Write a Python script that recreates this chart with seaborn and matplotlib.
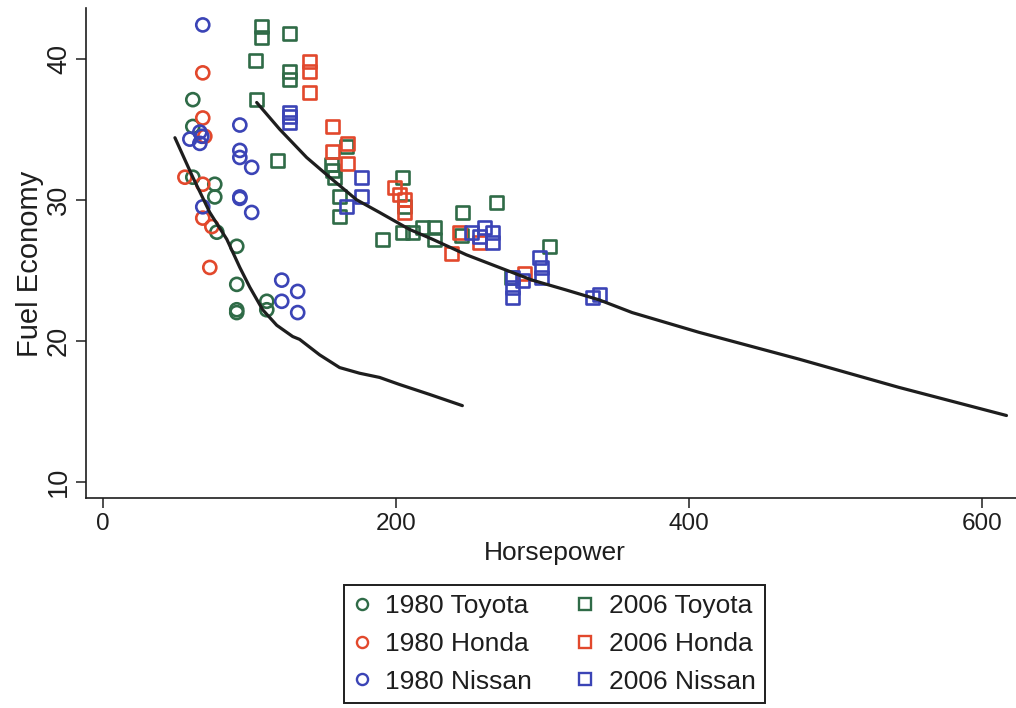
import numpy as np
import pandas as pd
import matplotlib
matplotlib.use("Agg")
import matplotlib.pyplot as plt
from matplotlib.lines import Line2D
import seaborn as sns

# ---- data: horsepower vs fuel economy (mpg) by model year and maker ----
toyota80_hp = [61.3, 61.3, 61.3, 76.3, 76.3, 77.7, 91.3, 91.3, 91.3, 91.3, 111.8, 111.8]
toyota80_mpg = [37.1, 35.2, 31.6, 31.1, 30.2, 27.7, 26.7, 24.0, 22.2, 22.0, 22.8, 22.2]

honda80_hp = [68.1, 68.1, 69.5, 55.9, 68.1, 68.1, 74.3, 72.9]
honda80_mpg = [39.0, 35.8, 34.5, 31.6, 31.1, 28.7, 28.1, 25.2]

nissan80_hp = [68.1, 59.3, 66.1, 67.5, 66.1, 93.4, 93.4, 93.4, 101.5, 93.4, 93.4,
               101.5, 68.1, 122.0, 122.0, 132.9, 132.9]
nissan80_mpg = [42.4, 34.3, 34.8, 34.5, 34.0, 35.3, 33.5, 33.0, 32.3, 30.2, 30.1,
                29.1, 29.5, 24.3, 22.8, 23.5, 22.0]

toyota06_hp = [108.3, 108.3, 104.3, 127.4, 127.4, 127.4, 104.9, 119.3, 166.3, 156.0,
               156.7, 158.1, 161.5, 161.5, 190.8, 204.4, 205.8, 204.4, 211.2, 218.1,
               226.2, 226.2, 245.3, 244.6, 268.5, 304.6, 278.7]
toyota06_mpg = [42.3, 41.5, 39.9, 41.8, 39.1, 38.5, 37.1, 32.8, 33.8, 32.5,
                32.1, 31.6, 30.2, 28.8, 27.2, 31.6, 29.5, 27.7, 27.7, 28.0,
                28.0, 27.2, 29.1, 27.5, 29.8, 26.7, 24.5]

honda06_hp = [141.1, 141.1, 141.1, 156.7, 156.7, 167.0, 167.0, 199.0, 202.4, 205.8,
              205.8, 237.8, 243.3, 256.9, 287.6]
honda06_mpg = [39.8, 39.1, 37.6, 35.2, 33.4, 34.0, 32.6, 30.9, 30.4, 30.0,
               29.1, 26.2, 27.7, 27.0, 24.8]

nissan06_hp = [127.4, 127.4, 127.4, 176.5, 176.5, 166.3, 251.4, 260.3, 256.9, 265.8,
               265.8, 297.8, 299.2, 299.2, 279.4, 286.2, 279.4, 279.4, 333.9, 338.7]
nissan06_mpg = [36.2, 35.9, 35.5, 31.6, 30.2, 29.5, 27.7, 28.0, 27.4, 27.7,
                27.0, 25.9, 25.2, 24.5, 24.5, 24.3, 23.8, 23.1, 23.1, 23.3]

# smoothed (lowess) trends for each model year
fit80_hp = [49.1, 61.3, 72.9, 84.5, 93.4, 100.2, 109.0, 118.6, 129.5, 134.2,
            147.9, 161.5, 175.1, 188.8, 202.4, 222.8, 245.3]
fit80_mpg = [34.4, 31.6, 29.1, 27.2, 25.2, 23.8, 22.2, 21.1, 20.3, 20.1,
             19.0, 18.1, 17.7, 17.4, 16.9, 16.2, 15.4]

fit06_hp = [104.9, 120.6, 139.0, 154.7, 173.1, 188.8, 209.2, 224.9, 248.0, 270.5,
            293.0, 316.2, 338.7, 361.2, 406.8, 475.0, 543.1, 616.7]
fit06_mpg = [36.9, 35.0, 33.0, 31.6, 30.0, 29.1, 27.9, 27.2, 26.1, 25.2,
             24.3, 23.6, 22.9, 22.0, 20.6, 18.7, 16.7, 14.7]

groups = ["1980 Toyota", "1980 Honda", "1980 Nissan",
          "2006 Toyota", "2006 Honda", "2006 Nissan"]
x_ticks = [0, 200, 400, 600]
y_ticks = [10, 20, 30, 40]

series = {
    "1980 Toyota": (toyota80_hp, toyota80_mpg),
    "1980 Honda": (honda80_hp, honda80_mpg),
    "1980 Nissan": (nissan80_hp, nissan80_mpg),
    "2006 Toyota": (toyota06_hp, toyota06_mpg),
    "2006 Honda": (honda06_hp, honda06_mpg),
    "2006 Nissan": (nissan06_hp, nissan06_mpg),
}
df = pd.concat(
    [pd.DataFrame({"hp": hp, "mpg": mpg, "group": g}) for g, (hp, mpg) in series.items()],
    ignore_index=True,
)

# ---- styling ----
sns.set_style("ticks")
plt.rcParams["font.family"] = ["Liberation Sans", "DejaVu Sans"]
ink = "#1e1e1e"
colors = {
    "1980 Toyota": "#2f6b47", "2006 Toyota": "#2f6b47",
    "1980 Honda": "#e2482c", "2006 Honda": "#e2482c",
    "1980 Nissan": "#3b44b6", "2006 Nissan": "#3b44b6",
}
markers = {g: ("o" if g.startswith("1980") else "s") for g in groups}

fig = plt.figure(figsize=(10.16, 7.08), dpi=100)
ax = fig.add_axes([86 / 1016, 210 / 708, 930 / 1016, 490 / 708])

for g in groups:
    sub = df[df["group"] == g]
    sns.scatterplot(data=sub, x="hp", y="mpg", ax=ax, color=colors[g],
                    marker=markers[g], s=88, facecolor="none",
                    edgecolor=colors[g], linewidth=1.9, legend=False, zorder=3)

sns.lineplot(x=fit80_hp, y=fit80_mpg, ax=ax, color=ink, lw=2.3, sort=False,
             estimator=None, zorder=4)
sns.lineplot(x=fit06_hp, y=fit06_mpg, ax=ax, color=ink, lw=2.3, sort=False,
             estimator=None, zorder=4)

ax.set_xlim(-11.6, 623.2)
ax.set_ylim(8.85, 43.6)
ax.set_xticks(x_ticks)
ax.set_yticks(y_ticks)
ax.set_xticklabels([str(v) for v in x_ticks])
ax.set_yticklabels([str(v) for v in y_ticks], rotation=90, va="center")
ax.tick_params(axis="both", direction="out", length=7, width=1.1, color=ink,
               labelcolor=ink, pad=4)
ax.tick_params(axis="x", labelsize=17.5)
ax.tick_params(axis="y", labelsize=19.5, pad=3)
for side in ("top", "right"):
    ax.spines[side].set_visible(False)
for side in ("left", "bottom"):
    ax.spines[side].set_linewidth(1.2)
    ax.spines[side].set_color(ink)

ax.set_xlabel("Horsepower", fontsize=19, color=ink, va="center")
ax.xaxis.set_label_coords(0.504, -0.112)
ax.set_ylabel("Fuel Economy", fontsize=21, color=ink, va="center")
ax.yaxis.set_label_coords(-0.06, 0.478)

handles = [Line2D([], [], linestyle="none", marker=markers[g], markersize=8,
                  markerfacecolor="none", markeredgecolor=colors[g],
                  markeredgewidth=1.7) for g in groups]
leg = fig.legend(handles, groups, loc="lower center", bbox_to_anchor=(0.546, 0.007),
                 ncol=2, fontsize=19, frameon=True, fancybox=False, framealpha=1,
                 edgecolor=ink, handlelength=0.6, handletextpad=0.6,
                 columnspacing=1.7, labelspacing=0.52, borderpad=0.36,
                 borderaxespad=0, labelcolor=ink)
leg.get_frame().set_linewidth(1.4)

fig.savefig("out.png", dpi=100, facecolor="white")
